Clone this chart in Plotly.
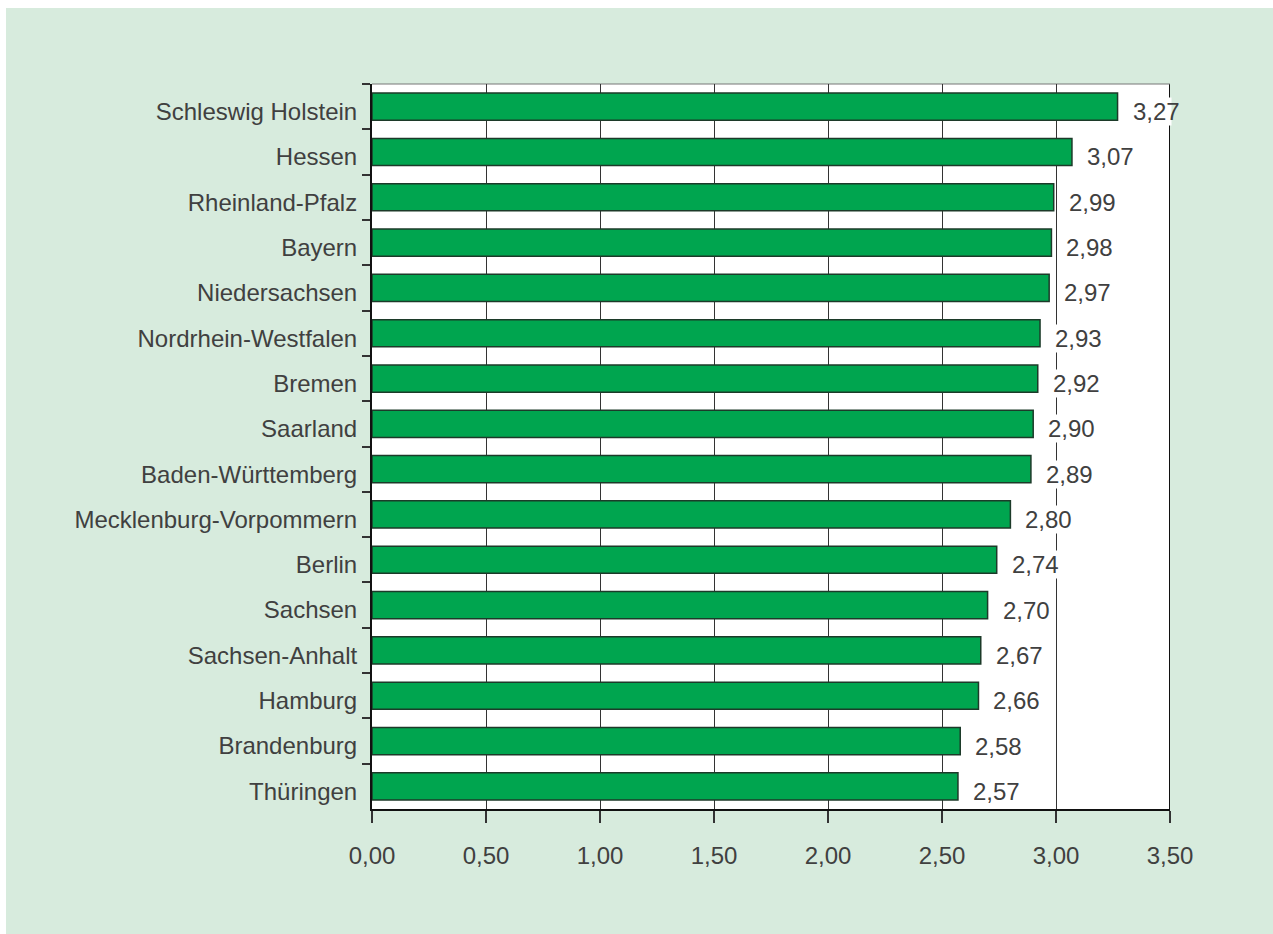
import plotly.graph_objects as go

states = ["Schleswig Holstein", "Hessen", "Rheinland-Pfalz", "Bayern", "Niedersachsen",
          "Nordrhein-Westfalen", "Bremen", "Saarland", "Baden-Württemberg",
          "Mecklenburg-Vorpommern", "Berlin", "Sachsen", "Sachsen-Anhalt", "Hamburg",
          "Brandenburg", "Thüringen"]
values = [3.27, 3.07, 2.99, 2.98, 2.97, 2.93, 2.92, 2.90, 2.89, 2.80, 2.74, 2.70,
          2.67, 2.66, 2.58, 2.57]
x_ticks = [0, 0.5, 1.0, 1.5, 2.0, 2.5, 3.0, 3.5]

W, H = 1273, 934
ML, MR, MT, MB = 372, 103, 84, 125
PW, PH = W - ML - MR, H - MT - MB
XMAX = 3.5
LABEL_GAP = 14

FONT = "Liberation Sans, Arial, sans-serif"
TXT = "#404040"
BG = "#d7ebdd"
FS = 24

fig = go.Figure(go.Bar(
    x=values, y=states, orientation="h", width=0.6,
    marker=dict(color="#00a54f", line=dict(color="#1c3a29", width=1.5)),
    hoverinfo="skip",
))

for v, s in zip(values, states):
    txt = f"{v:.2f}".replace(".", ",")
    avail = (XMAX - v) / XMAX * PW - LABEL_GAP
    # white backing box, clipped at the plot's right edge
    fig.add_annotation(x=v, y=s, xref="x", yref="y", text=txt,
                       showarrow=False, xanchor="left", xshift=LABEL_GAP, yshift=-5,
                       bgcolor="white", borderpad=0, align="left",
                       width=min(50, avail),
                       font=dict(family=FONT, size=FS, color="rgba(0,0,0,0)"))
    fig.add_annotation(x=v, y=s, xref="x", yref="y", text=txt,
                       showarrow=False, xanchor="left", xshift=LABEL_GAP, yshift=-5,
                       borderpad=0, align="left",
                       font=dict(family=FONT, size=FS, color=TXT))

shapes = [
    dict(type="rect", xref="paper", yref="paper", x0=-ML / PW, x1=(6 - ML) / PW,
         y0=-MB / PH, y1=1 + MT / PH, fillcolor="white", line_width=0, layer="below"),
    dict(type="rect", xref="paper", yref="paper", x0=-ML / PW, x1=1 + MR / PW,
         y0=1 + (MT - 8) / PH, y1=1 + MT / PH, fillcolor="white", line_width=0, layer="below"),
    dict(type="line", xref="x", yref="paper", x0=XMAX, x1=XMAX, y0=0, y1=1,
         line=dict(color="#111111", width=2), layer="below"),
    dict(type="line", xref="paper", yref="paper", x0=0, x1=1, y0=1, y1=1,
         line=dict(color="#777777", width=1), layer="below"),
]

fig.update_layout(
    width=W, height=H,
    margin=dict(l=ML, r=MR, t=MT, b=MB, pad=0),
    paper_bgcolor=BG, plot_bgcolor="white",
    separators=",.",
    showlegend=False,
    shapes=shapes,
    font=dict(family=FONT, size=FS, color=TXT),
    xaxis=dict(range=[0, XMAX], tickvals=x_ticks, tickformat=".2f",
               showgrid=True, gridcolor="#333333", gridwidth=1,
               showline=True, linecolor="#111111", linewidth=2,
               ticks="outside", ticklen=12, tickwidth=1.5, tickcolor="#333333",
               ticklabelstandoff=12, zeroline=False, fixedrange=True,
               tickfont=dict(family=FONT, size=FS, color=TXT)),
    yaxis=dict(autorange="reversed", categoryorder="array", categoryarray=states,
               showline=True, linecolor="#111111", linewidth=2,
               ticks="outside", tickson="boundaries", ticklen=8, tickwidth=1.5,
               tickcolor="#333333", ticklabelstandoff=8, ticklabelshift=-5,
               showgrid=False, fixedrange=True,
               tickfont=dict(family=FONT, size=FS, color=TXT)),
    bargap=0.4,
)

fig.write_html("out.html")
